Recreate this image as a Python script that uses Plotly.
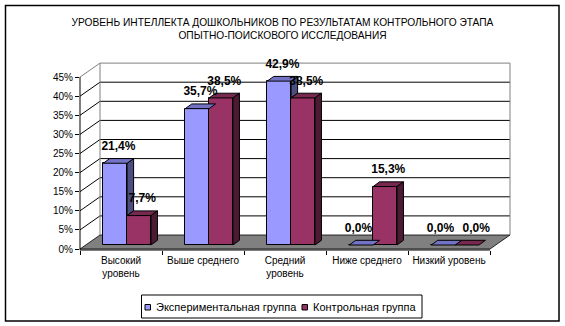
import plotly.graph_objects as go

# ---------------- data ----------------
title_lines = [
    "УРОВЕНЬ ИНТЕЛЛЕКТА ДОШКОЛЬНИКОВ ПО РЕЗУЛЬТАТАМ КОНТРОЛЬНОГО ЭТАПА",
    "ОПЫТНО-ПОИСКОВОГО ИССЛЕДОВАНИЯ",
]
categories = ["Высокий<br>уровень", "Выше среднего", "Средний<br>уровень",
              "Ниже среднего", "Низкий уровень"]
series_names = ["Экспериментальная группа", "Контрольная группа"]
exp_values = [21.4, 35.7, 42.9, 0.0, 0.0]
ctrl_values = [7.7, 38.5, 38.5, 15.3, 0.0]
y_ticks = [0, 5, 10, 15, 20, 25, 30, 35, 40, 45]
y_tick_labels = [f"{v}%" for v in y_ticks]

# ---------------- geometry / style ----------------
W, H = 565, 326
L, R, T, B = 80, 512, 62, 250
XU = 82.0      # px per category
YU = 3.82      # px per percent
Y0_PX = 249.0  # pixel row of 0 % on front plane
x_lo = -0.5
x_hi = x_lo + (R - L) / XU
y_lo = -(B - Y0_PX) / YU
y_hi = y_lo + (B - T) / YU
n_cat = len(categories)
x_end = x_lo + n_cat

DX, DY = 20 / XU, 14 / YU          # full chart depth
BAR_W = 23.85 / XU
PAIR_SHIFT = 6.1 / XU              # bars sit a little behind front plane
BASE = 4.0 / YU
BDX, BDY = 6.5 / XU, 4.7 / YU      # bar depth
LABEL_GAP = 3.0
ZERO_NUDGE = 6 / XU                # zero labels pushed apart

FONT = "Liberation Sans, Arial, sans-serif"
EXP_C = ["#9999FF", "#7373C6", "#4D4D80"]
CTR_C = ["#993366", "#77284F", "#4D1A33"]


def px_x(px):
    return (px - L) / (R - L)


def px_y(py):
    return (B - py) / (B - T)


def fmt(v):
    return f"{v:.1f}".replace(".", ",") + "%"


fig = go.Figure()

cats_idx = list(range(n_cat))
exp_x = [i + PAIR_SHIFT - BAR_W / 2 for i in cats_idx]
ctr_x = [i + PAIR_SHIFT + BAR_W / 2 for i in cats_idx]

fig.add_trace(go.Bar(x=exp_x, y=exp_values, base=[BASE] * n_cat, width=BAR_W,
                     marker=dict(color=EXP_C[0], line=dict(color="black", width=1)),
                     name=series_names[0], showlegend=False, hoverinfo="skip"))
fig.add_trace(go.Bar(x=ctr_x, y=ctrl_values, base=[BASE] * n_cat, width=BAR_W,
                     marker=dict(color=CTR_C[0], line=dict(color="black", width=1)),
                     name=series_names[1], showlegend=False, hoverinfo="skip"))

# 3D faces
exp_side_x, exp_side_y = [], []
exp_top_x, exp_top_y = [], []
ctr_top_x, ctr_top_y = [], []
ctr_side_x, ctr_side_y = [], []
for i in cats_idx:
    x0e = i + PAIR_SHIFT - BAR_W
    x1e = i + PAIR_SHIFT
    x1c = x1e + BAR_W
    te = BASE + exp_values[i]
    tc = BASE + ctrl_values[i]
    if te > tc:
        exp_side_x += [x1e, x1e, x1e + BDX, x1e + BDX, x1e, None]
        exp_side_y += [tc, te, te + BDY, tc + BDY, tc, None]
    exp_top_x += [x0e, x1e, x1e + BDX, x0e + BDX, x0e, None]
    exp_top_y += [te, te, te + BDY, te + BDY, te, None]
    ctr_top_x += [x1e, x1c, x1c + BDX, x1e + BDX, x1e, None]
    ctr_top_y += [tc, tc, tc + BDY, tc + BDY, tc, None]
    if ctrl_values[i] > 0:
        ctr_side_x += [x1c, x1c, x1c + BDX, x1c + BDX, x1c, None]
        ctr_side_y += [BASE, tc, tc + BDY, BASE + BDY, BASE, None]

for xs, ys, col in [(exp_side_x, exp_side_y, EXP_C[2]),
                    (ctr_top_x, ctr_top_y, CTR_C[1]),
                    (ctr_side_x, ctr_side_y, CTR_C[2]),
                    (exp_top_x, exp_top_y, EXP_C[1])]:
    fig.add_trace(go.Scatter(x=xs, y=ys, mode="lines", fill="toself",
                             fillcolor=col, line=dict(color="black", width=1),
                             showlegend=False, hoverinfo="skip"))

# data labels
lab_x, lab_y, lab_t = [], [], []
for i in cats_idx:
    for cx, v, sgn in [(exp_x[i], exp_values[i], -1), (ctr_x[i], ctrl_values[i], 1)]:
        nudge = sgn * ZERO_NUDGE if v == 0 else 0
        lab_x.append(cx + BDX / 2 + nudge)
        lab_y.append(BASE + v + BDY + LABEL_GAP)
        lab_t.append(fmt(v))
fig.add_trace(go.Scatter(x=lab_x, y=lab_y, text=lab_t, mode="text",
                         textposition="middle center", cliponaxis=False,
                         textfont=dict(family=FONT, size=12, color="black", weight="bold"),
                         showlegend=False, hoverinfo="skip"))

# ---------------- walls, floor, grid (decoration) ----------------
shapes = []
# floor
shapes.append(dict(type="path", layer="below", xref="x", yref="y",
                   path=f"M{x_lo},0 L{x_lo + DX},{DY} L{x_end + DX},{DY} L{x_end},0 Z",
                   fillcolor="#808080", line=dict(color="black", width=0.8)))
for v in y_ticks:
    col = "#808080" if v == y_ticks[-1] else "black"
    if v > 0:
        shapes.append(dict(type="line", layer="below", xref="x", yref="y",
                           x0=x_lo, y0=v, x1=x_lo + DX, y1=v + DY,
                           line=dict(color=col, width=1)))
        shapes.append(dict(type="line", layer="below", xref="x", yref="y",
                           x0=x_lo + DX, y0=v + DY, x1=x_end + DX, y1=v + DY,
                           line=dict(color=col, width=1)))
# back wall vertical edges
for xv in (x_lo + DX, x_end + DX):
    shapes.append(dict(type="line", layer="below", xref="x", yref="y",
                       x0=xv, y0=DY, x1=xv, y1=y_ticks[-1] + DY,
                       line=dict(color="#808080", width=1)))
# axis lines
shapes.append(dict(type="line", xref="paper", yref="y", x0=0, x1=0,
                   y0=y_lo, y1=y_ticks[-1], line=dict(color="black", width=1)))
shapes.append(dict(type="line", xref="x", yref="paper", x0=x_lo, x1=x_end,
                   y0=0, y1=0, line=dict(color="black", width=1)))
# outer border
shapes.append(dict(type="rect", xref="paper", yref="paper",
                   x0=px_x(5.5), x1=px_x(559), y0=px_y(5.5), y1=px_y(321),
                   line=dict(color="black", width=1.5)))

# ---------------- legend (manual, compact as in original) ----------------
annotations = []
shapes.append(dict(type="rect", xref="paper", yref="paper",
                   x0=px_x(141.5), x1=px_x(422), y0=px_y(295), y1=px_y(318),
                   line=dict(color="black", width=1)))
leg_sq = [145, 302]
leg_tx = [153.5, 311]
for k, name in enumerate(series_names):
    col = [EXP_C, CTR_C][k][0]
    shapes.append(dict(type="rect", xref="paper", yref="paper",
                       x0=px_x(leg_sq[k]), x1=px_x(leg_sq[k] + 5.5),
                       y0=px_y(304.5), y1=px_y(310),
                       fillcolor=col, line=dict(color="black", width=1)))
    annotations.append(dict(xref="paper", yref="paper", x=px_x(leg_tx[k]), y=px_y(307),
                            xanchor="left", yanchor="middle", showarrow=False,
                            text=name, font=dict(family=FONT, size=11, color="black")))

fig.update_layout(
    width=W, height=H,
    margin=dict(l=L, r=W - R, t=T, b=H - B, pad=0),
    paper_bgcolor="white", plot_bgcolor="white",
    barmode="overlay", bargap=0,
    showlegend=False,
    title=dict(text="<br>".join(title_lines), x=0.5, xref="container", xanchor="center",
               y=1 - 25.5 / H, yref="container", yanchor="middle",
               font=dict(family=FONT, size=10.2, color="black")),
    xaxis=dict(range=[x_lo, x_hi], tickmode="array", tickvals=cats_idx,
               ticktext=categories, tickangle=0, ticks="outside", ticklen=1,
               tickcolor="rgba(0,0,0,0)", showgrid=False, zeroline=False,
               showline=False, tickfont=dict(family=FONT, size=10, color="black"),
               minor=dict(tickmode="array", tickvals=[x_lo + k for k in range(n_cat + 1)],
                          ticks="outside", ticklen=4, tickcolor="black", showgrid=False),
               fixedrange=True),
    yaxis=dict(range=[y_lo, y_hi], tickmode="array", tickvals=y_ticks,
               ticktext=y_tick_labels, ticks="outside", ticklen=4, tickcolor="black",
               showgrid=False, zeroline=False, showline=False,
               tickfont=dict(family=FONT, size=10, color="black"), fixedrange=True),
    shapes=shapes, annotations=annotations,
)

fig.write_html("out.html")
